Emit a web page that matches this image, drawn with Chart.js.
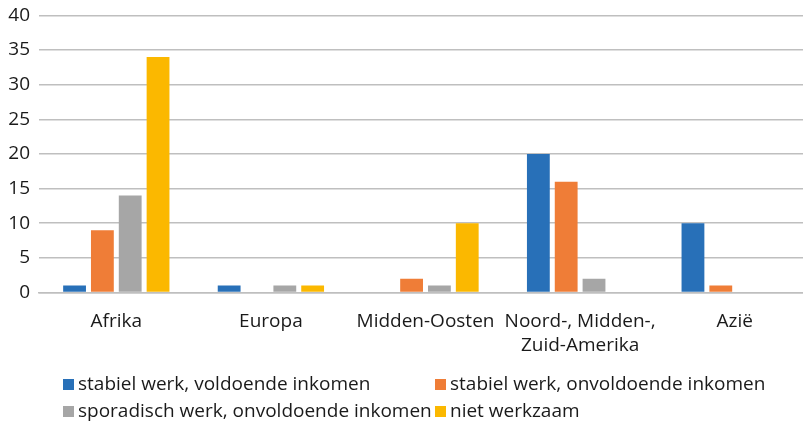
<!DOCTYPE html>
<html>
<head>
<meta charset="utf-8">
<script src="https://cdn.jsdelivr.net/npm/chart.js@4"></script>
<style>
  body { margin: 0; background: #fff; overflow: hidden; width: 803px; height: 423px; }
  #wrap { position: absolute; left: 0; top: -5px; width: 812px; height: 379px; }
  #legend { position: absolute; left: 0; top: 0; width: 803px; font-family: "Open Sans", sans-serif; font-size: 19px; color: #1a1a1a; }
  #legend .item { position: absolute; white-space: nowrap; line-height: 24px; }
  #legend .box { display: inline-block; width: 11px; height: 11px; margin-right: 4px; vertical-align: 0px; }
</style>
</head>
<body>
<div id="wrap"><canvas id="chart"></canvas></div>
<div id="legend"></div>
<script>
const categories = ["Afrika", "Europa", "Midden-Oosten", ["Noord-, Midden-,", "Zuid-Amerika"], "Azië"];
const seriesNames = [
  "stabiel werk, voldoende inkomen",
  "stabiel werk, onvoldoende inkomen",
  "sporadisch werk, onvoldoende inkomen",
  "niet werkzaam"
];
const stabielVoldoende = [1, 1, 0, 20, 10];
const stabielOnvoldoende = [9, 0, 2, 16, 1];
const sporadisch = [14, 1, 1, 2, 0];
const nietWerkzaam = [34, 1, 10, 0, 0];
const colors = ["#2870b8", "#ef7d37", "#a6a6a6", "#fbb800"];
const yTicks = { min: 0, max: 40, step: 5 };

const values = [stabielVoldoende, stabielOnvoldoende, sporadisch, nietWerkzaam];
const datasets = values.map((v, i) => ({
  label: seriesNames[i],
  data: v,
  backgroundColor: colors[i],
  borderWidth: 0,
  barPercentage: 0.82,
  categoryPercentage: 0.72
}));

const font = { family: "'Open Sans', sans-serif", size: 19 };

new Chart(document.getElementById("chart"), {
  type: "bar",
  data: { labels: categories, datasets },
  options: {
    responsive: true,
    maintainAspectRatio: false,
    animation: false,
    layout: { padding: { top: 3, left: 0, right: 0, bottom: 0 } },
    plugins: { legend: { display: false }, tooltip: { enabled: false } },
    scales: {
      x: {
        grid: { display: false, drawTicks: false },
        border: { color: "#bfbfbf", width: 1.5 },
        ticks: { color: "#1a1a1a", font: { ...font, lineHeight: 1.25 }, padding: 17, maxRotation: 0, autoSkip: false }
      },
      y: {
        min: yTicks.min,
        max: yTicks.max,
        afterFit: (axis) => { axis.width = 39; },
        grid: { color: "#bfbfbf", lineWidth: 1.5, drawTicks: false },
        border: { display: false },
        ticks: { stepSize: yTicks.step, color: "#1a1a1a", font, padding: 9 }
      }
    }
  }
});

// legend: two rows, second column starts at the same x
const legendEl = document.getElementById("legend");
const legendX = [63, 435, 63, 435];
const legendY = [371, 371, 398, 398];
seriesNames.forEach((name, i) => {
  const item = document.createElement("div");
  item.className = "item";
  item.style.left = legendX[i] + "px";
  item.style.top = legendY[i] + "px";
  const box = document.createElement("span");
  box.className = "box";
  box.style.background = colors[i];
  item.appendChild(box);
  item.appendChild(document.createTextNode(name));
  legendEl.appendChild(item);
});
</script>
</body>
</html>
